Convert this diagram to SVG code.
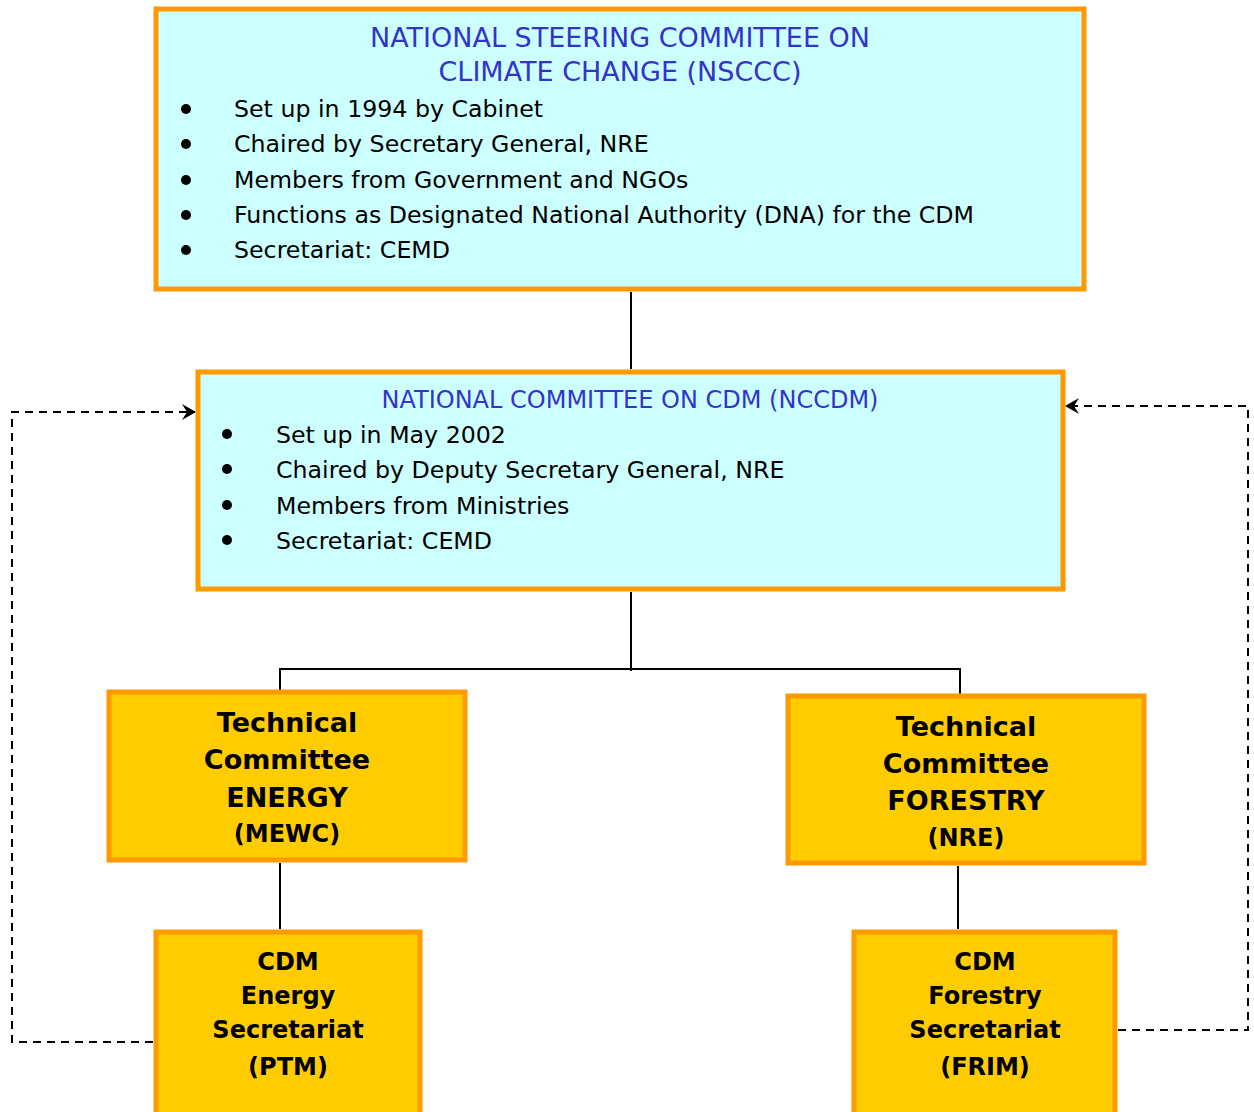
<svg xmlns="http://www.w3.org/2000/svg" width="1254" height="1112" viewBox="0 0 1254 1112">
<style>
.cyan{fill:#ccffff;stroke:#ff9900;stroke-width:5}
.yel{fill:#ffcc00;stroke:#ff9900;stroke-width:5}
.t{font-family:"DejaVu Sans","Liberation Sans",sans-serif}
.title{fill:#3333cc;font-size:24px;text-anchor:middle}
.big{font-size:27px}
.b{fill:#000;font-size:23.7px}
.h{fill:#000;font-size:27px;font-weight:bold;text-anchor:middle}
.s{fill:#000;font-size:24px;font-weight:bold;text-anchor:middle}
.ln{stroke:#000;stroke-width:2;fill:none}
.dash{stroke:#000;stroke-width:2;fill:none;stroke-dasharray:8 6}
</style>
<defs>
<marker id="arr" viewBox="0 0 14 16" refX="13" refY="8" markerWidth="14" markerHeight="16" markerUnits="userSpaceOnUse" orient="auto">
<path d="M0,0 L14,8 L0,16 L5,8 Z" fill="#000"/>
</marker>
</defs>
<g id="connectors">
<line class="ln" x1="631" y1="292" x2="631" y2="369"/>
<line class="ln" x1="631" y1="592" x2="631" y2="671"/>
<polyline class="ln" points="280,690 280,669 960,669 960,694"/>
<line class="ln" x1="280" y1="863" x2="280" y2="929"/>
<line class="ln" x1="958" y1="866" x2="958" y2="929"/>
<polyline class="dash" points="153,1042 12,1042 12,412 195,412" marker-end="url(#arr)"/>
<polyline class="dash" points="1118,1030 1248,1030 1248,406 1066,406" marker-end="url(#arr)"/>
</g>
<g id="nsccc">
<rect class="cyan" x="156" y="9" width="928" height="280"/>
<text class="t title big" x="620" y="47">NATIONAL STEERING COMMITTEE ON</text>
<text class="t title big" x="620" y="81">CLIMATE CHANGE (NSCCC)</text>
<g class="t b">
<circle cx="186" cy="109" r="5"/><text x="234" y="117">Set up in 1994 by Cabinet</text>
<circle cx="186" cy="144" r="5"/><text x="234" y="152">Chaired by Secretary General, NRE</text>
<circle cx="186" cy="180" r="5"/><text x="234" y="188">Members from Government and NGOs</text>
<circle cx="186" cy="215" r="5"/><text x="234" y="223" textLength="740" lengthAdjust="spacingAndGlyphs">Functions as Designated National Authority (DNA) for the CDM</text>
<circle cx="186" cy="250" r="5"/><text x="234" y="258">Secretariat: CEMD</text>
</g>
</g>
<g id="nccdm">
<rect class="cyan" x="198" y="372" width="865" height="217"/>
<text class="t title" x="630" y="408">NATIONAL COMMITTEE ON CDM (NCCDM)</text>
<g class="t b">
<circle cx="227" cy="434" r="5"/><text x="276" y="443">Set up in May 2002</text>
<circle cx="227" cy="469" r="5"/><text x="276" y="478">Chaired by Deputy Secretary General, NRE</text>
<circle cx="227" cy="505" r="5"/><text x="276" y="514">Members from Ministries</text>
<circle cx="227" cy="540" r="5"/><text x="276" y="549">Secretariat: CEMD</text>
</g>
</g>
<g id="tc-energy">
<rect class="yel" x="109" y="692" width="356" height="168"/>
<text class="t h" x="287" y="732">Technical</text>
<text class="t h" x="287" y="769">Committee</text>
<text class="t h" x="287" y="807">ENERGY</text>
<text class="t s" x="287" y="842">(MEWC)</text>
</g>
<g id="tc-forestry">
<rect class="yel" x="788" y="696" width="356" height="167"/>
<text class="t h" x="966" y="736">Technical</text>
<text class="t h" x="966" y="773">Committee</text>
<text class="t h" x="966" y="810">FORESTRY</text>
<text class="t s" x="966" y="846">(NRE)</text>
</g>
<g id="cdm-energy">
<rect class="yel" x="156" y="932" width="264" height="184"/>
<text class="t s" x="288" y="970">CDM</text>
<text class="t s" x="288" y="1004">Energy</text>
<text class="t s" x="288" y="1038">Secretariat</text>
<text class="t s" x="288" y="1075">(PTM)</text>
</g>
<g id="cdm-forestry">
<rect class="yel" x="854" y="932" width="261" height="184"/>
<text class="t s" x="985" y="970">CDM</text>
<text class="t s" x="985" y="1004">Forestry</text>
<text class="t s" x="985" y="1038">Secretariat</text>
<text class="t s" x="985" y="1075">(FRIM)</text>
</g>
</svg>
